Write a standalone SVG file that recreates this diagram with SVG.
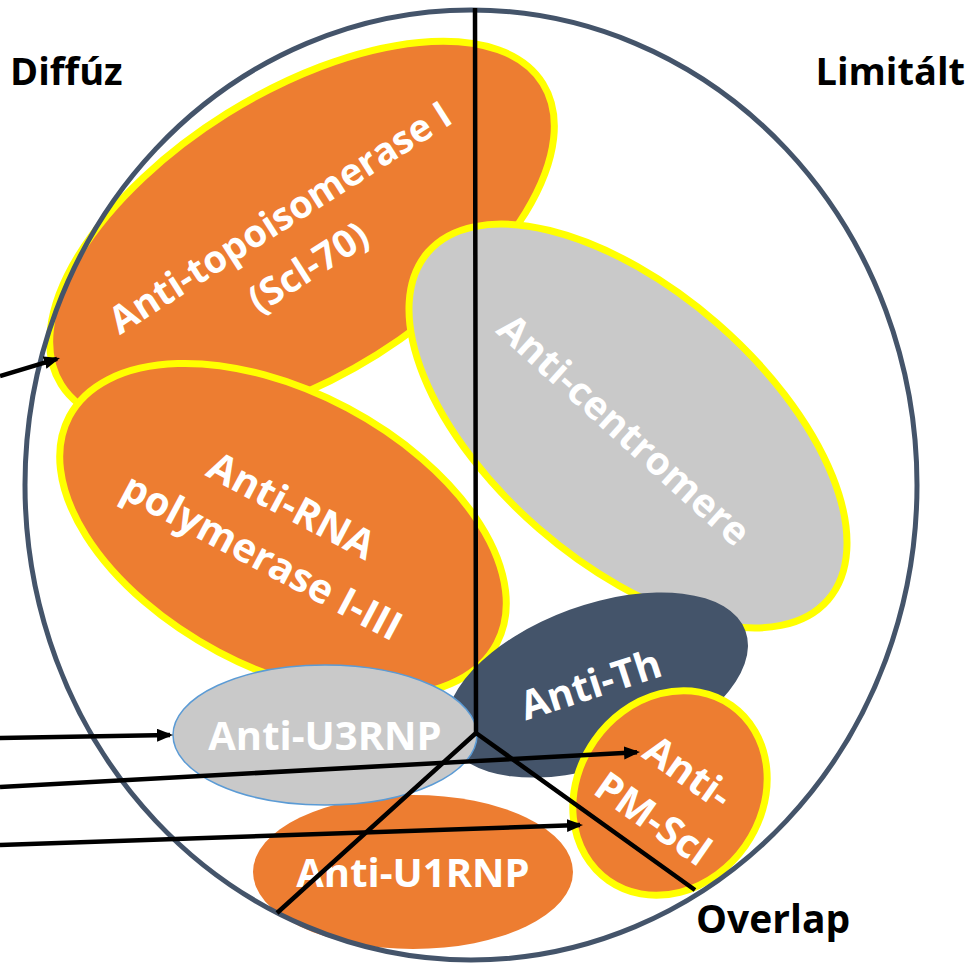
<svg xmlns="http://www.w3.org/2000/svg" width="974" height="965" viewBox="0 0 974 965">
<style>
.o{fill:#ED7D31}
.g{fill:#C9C9C9}
.d{fill:#44546A}
.yl{stroke:#FFFF00;stroke-width:7}
.nt{font-family:"Open Sans","Liberation Sans",sans-serif;font-weight:bold;fill:#FFFFFF;text-anchor:middle;font-size:40px}
.lbl{font-family:"Open Sans","Liberation Sans",sans-serif;font-weight:bold;fill:#000000;font-size:38px}
.ln{stroke:#000000;stroke-width:4.5;fill:none}
</style>
<defs>
<marker id="ah" markerUnits="userSpaceOnUse" markerWidth="18" markerHeight="14" refX="13" refY="6.5" orient="auto">
<path d="M0,0 L16,6.5 L0,13 Z" fill="#000000"/>
</marker>
</defs>
<rect width="974" height="965" fill="#FFFFFF"/>
<g id="anti-topoisomerase">
<ellipse class="o yl" cx="302" cy="234" rx="284" ry="142" transform="rotate(-32 302 234)"/>
<g transform="translate(301 253) rotate(-32.5)">
<text class="nt" style="font-size:38px" x="1.5" y="-28">Anti-topoisomerase I</text>
<text class="nt" style="font-size:38px" x="-1.5" y="29">(Scl-70)</text>
</g>
</g>
<g id="anti-rna-polymerase">
<ellipse class="o yl" cx="283" cy="530" rx="242" ry="138" transform="rotate(28 283 530)"/>
<g transform="translate(270.5 543) rotate(28)">
<text class="nt" x="1" y="-29">Anti-RNA</text>
<text class="nt" x="-1" y="30">polymerase I-III</text>
</g>
</g>
<g id="anti-centromere">
<ellipse class="g yl" cx="628" cy="426" rx="265" ry="136" transform="rotate(41 628 426)"/>
<text class="nt" style="font-size:39px" transform="translate(615 440) rotate(42)">Anti-centromere</text>
</g>
<g id="anti-th">
<ellipse class="d" cx="597" cy="685" rx="158" ry="80" transform="rotate(-20 597 685)"/>
<text class="nt" transform="translate(595 698) rotate(-18)">Anti-Th</text>
</g>
<g id="anti-pm-scl">
<ellipse class="o yl" cx="670" cy="793" rx="107" ry="92" transform="rotate(-55 670 793)"/>
<g transform="translate(662.5 807) rotate(35)">
<text class="nt" x="1" y="-29">Anti-</text>
<text class="nt" x="-1" y="29">PM-Scl</text>
</g>
</g>
<g id="anti-u1rnp">
<ellipse class="o" cx="413" cy="872" rx="160" ry="77"/>
<text class="nt" x="413" y="887">Anti-U1RNP</text>
</g>
<g id="anti-u3rnp">
<ellipse class="g" cx="325" cy="735" rx="152" ry="70" stroke="#5B9BD5" stroke-width="1.5"/>
<text class="nt" x="325" y="750">Anti-U3RNP</text>
</g>
<g id="frame">
<ellipse cx="471" cy="485" rx="446" ry="475" fill="none" stroke="#44546A" stroke-width="5"/>
</g>
<g id="labels">
<text class="lbl" x="10" y="85">Diffúz</text>
<text class="lbl" x="965" y="85" text-anchor="end">Limitált</text>
<text class="lbl" style="font-size:39px" x="696" y="933">Overlap</text>
</g>
<g id="connectors">
<path class="ln" d="M475,8 L476,733 M476,733 L277,913 M476,733 L695,890"/>
<line class="ln" x1="0" y1="376" x2="57.1" y2="358.9" marker-end="url(#ah)"/>
<line class="ln" x1="0" y1="738" x2="170" y2="735" marker-end="url(#ah)"/>
<line class="ln" x1="0" y1="787" x2="637" y2="752.2" marker-end="url(#ah)"/>
<line class="ln" x1="0" y1="845" x2="580" y2="825.1" marker-end="url(#ah)"/>
</g>
</svg>
